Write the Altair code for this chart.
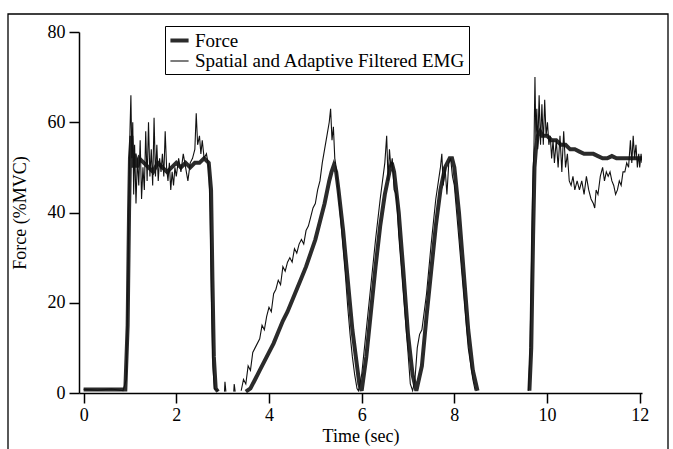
import altair as alt
import pandas as pd

# ---- Force (thick line) ----
force_t = [0.0, 0.3, 0.6, 0.9, 0.95, 0.98, 1.0, 1.03, 1.06, 1.1, 1.15, 1.2, 1.3, 1.4, 1.5, 1.6, 1.7, 1.8, 1.9, 2.0,
           2.1, 2.2, 2.3, 2.4, 2.5, 2.6, 2.7, 2.75, 2.78, 2.81, 2.85, 2.9,
           3.5, 3.6, 3.7, 3.8, 3.9, 4.0, 4.1, 4.2, 4.3, 4.4, 4.5, 4.6, 4.7, 4.8, 4.9, 5.0, 5.1, 5.2, 5.3, 5.35, 5.4,
           5.45, 5.5, 5.6, 5.7, 5.8, 5.9, 5.95, 6.0,
           6.1, 6.2, 6.3, 6.4, 6.5, 6.6, 6.65, 6.7, 6.8, 6.9, 7.0, 7.1, 7.18,
           7.3, 7.4, 7.5, 7.6, 7.7, 7.8, 7.9, 7.95, 8.0, 8.1, 8.2, 8.3, 8.4, 8.5,
           9.62, 9.66, 9.7, 9.73, 9.76, 9.8, 9.85, 9.9, 10.0, 10.1, 10.2, 10.3, 10.4, 10.5, 10.6, 10.7, 10.8,
           10.9, 11.0, 11.1, 11.2, 11.3, 11.4, 11.5, 11.6, 11.7, 11.8, 11.9, 12.0, 12.05]
force_v = [0.8, 0.8, 0.8, 0.8, 15, 40, 52, 57, 50, 53, 50, 52, 51, 50, 49, 51, 50, 49, 50, 51,
           50, 51, 50, 51, 51, 52, 51, 45, 25, 8, 1, 0.3,
           0.3, 1, 3, 5, 7, 9, 11, 13.5, 16, 18, 20.5, 23, 25.5, 28, 31, 34, 38, 42, 47, 49, 50.5,
           49, 45, 36, 25, 14, 6, 2, 0.5,
           8, 18, 28, 37, 44, 49, 51, 49, 40, 27, 13, 4, 0.5,
           6, 17, 27, 37, 45, 50, 52, 52, 50, 40, 27, 14, 5, 0.5,
           0.5, 10, 35, 50, 54, 57, 58, 57, 57, 56, 56, 55, 55, 54, 54, 53.5, 53,
           53, 53, 52.5, 52, 52, 52.5, 52, 52, 52, 52, 52, 52, 52]
# times at which the recorded trace restarts after a gap
force_breaks = [3.5, 9.62]

# ---- Spatial and Adaptive Filtered EMG (thin line) ----
emg_t = [0.0, 0.3, 0.6, 0.85, 0.92, 0.95, 0.98, 1.0, 1.02, 1.04, 1.06, 1.08, 1.1, 1.13, 1.16, 1.19, 1.22, 1.25,
         1.28, 1.31, 1.34, 1.37, 1.4, 1.43, 1.46, 1.49, 1.52, 1.55, 1.58, 1.61, 1.64, 1.67, 1.7, 1.73, 1.76,
         1.79, 1.82, 1.85, 1.88, 1.91, 1.94, 1.97, 2.0, 2.05, 2.1, 2.15, 2.2, 2.25, 2.3, 2.35, 2.4, 2.43,
         2.46, 2.5, 2.53, 2.56, 2.6, 2.65, 2.7, 2.73, 2.76, 2.79, 2.82, 2.9,
         3.04, 3.05, 3.07,
         3.24, 3.25, 3.27,
         3.4, 3.45, 3.5, 3.55, 3.6, 3.65, 3.7, 3.8, 3.85, 3.9, 3.95, 4.0, 4.05, 4.1, 4.15, 4.2, 4.25, 4.3,
         4.35, 4.4, 4.45, 4.5, 4.55, 4.6, 4.65, 4.7, 4.75, 4.8, 4.85, 4.9, 4.95, 5.0, 5.05, 5.1, 5.15, 5.2,
         5.25, 5.3, 5.33, 5.36, 5.39, 5.42, 5.45, 5.5, 5.55, 5.6, 5.65, 5.7, 5.75, 5.8, 5.85, 5.9, 5.93,
         6.0, 6.1, 6.2, 6.3, 6.4, 6.5, 6.54, 6.57, 6.6, 6.63, 6.66, 6.7, 6.75, 6.8, 6.9, 7.0, 7.05, 7.1,
         7.15, 7.2, 7.25, 7.3, 7.4, 7.5, 7.6, 7.7, 7.73, 7.76, 7.8, 7.84, 7.88, 7.92, 7.96, 8.0, 8.1, 8.2,
         8.3, 8.4, 8.45,
         9.6, 9.63, 9.66, 9.69, 9.72, 9.74, 9.76, 9.78, 9.8, 9.83, 9.86, 9.89, 9.92, 9.95, 9.98, 10.01,
         10.04, 10.07, 10.1, 10.13, 10.16, 10.2, 10.24, 10.28, 10.32, 10.36, 10.4, 10.44, 10.48, 10.52,
         10.56, 10.6, 10.65, 10.7, 10.75, 10.8, 10.85, 10.9, 10.95, 11.0, 11.03, 11.06, 11.1, 11.15, 11.2,
         11.24, 11.28, 11.32, 11.36, 11.4, 11.44, 11.48, 11.52, 11.56, 11.6, 11.64, 11.68, 11.72, 11.76,
         11.8, 11.83, 11.86, 11.89, 11.92, 11.95, 11.98, 12.0, 12.03, 12.05]
emg_v = [0.8, 0.6, 0.9, 0.5, 3, 20, 45, 58, 66, 52, 60, 44, 55, 42, 52, 46, 56, 43,
         50, 45, 58, 47, 60, 48, 54, 46, 61, 48, 55, 47, 52, 49, 53, 48, 58,
         50, 47, 51, 45, 49, 46, 50, 48, 52, 49, 53, 50, 47, 51, 52, 54, 62,
         55, 57, 53, 56, 52, 53, 50, 40, 20, 6, 1, 0.5,
         0.3, 2.5, 0.3,
         0.3, 2, 0.3,
         0.5, 3, 2, 6, 5, 9, 10, 12, 15, 14, 17, 19, 18, 22, 23, 25, 24, 28,
         27, 29, 30, 29, 32, 31, 33, 34, 33, 36, 37, 39, 41, 42, 45, 47, 51, 54,
         57, 60, 63, 56, 59, 52, 50, 44, 38, 32, 26, 19, 13, 8, 4, 1, 0.5,
         4, 14, 24, 34, 43, 51, 57, 47, 54, 50, 52, 45, 44, 35, 22, 9, 2, 0.5,
         3, 10, 13, 14, 22, 33, 43, 50, 53, 46, 50, 44, 51, 52, 48, 46, 34, 22,
         10, 3, 0.5,
         0.5, 8, 25, 45, 55, 70, 56, 63, 54, 66, 55, 64, 55, 65, 57, 60,
         55, 57, 52, 56, 51, 56, 50, 57, 49, 58, 50, 53, 47, 46,
         48, 45, 47, 45, 47, 44, 48, 45, 43, 42, 41, 45, 44, 48, 50,
         47, 49, 48, 49, 47, 46, 44, 45, 47, 46, 49, 49, 51, 50,
         56, 51, 57, 52, 55, 50, 53, 50, 53, 51]
emg_breaks = [3.04, 3.24, 3.4, 9.6]

FORCE = "Force"
EMG = "Spatial and Adaptive Filtered EMG"


def seg_of(t, breaks):
    return sum(1 for b in breaks if t >= b)


rows = []
for t, v in zip(force_t, force_v):
    rows.append({"t": t, "v": v, "series": FORCE, "key": f"F{seg_of(t, force_breaks)}"})
for t, v in zip(emg_t, emg_v):
    rows.append({"t": t, "v": v, "series": EMG, "key": f"E{seg_of(t, emg_breaks)}"})
df = pd.DataFrame(rows)

FONT = "Liberation Serif"
legend = alt.Legend(
    title=None, orient="none", legendX=86, legendY=-6,
    strokeColor="black", padding=3, fillColor="white",
    symbolType="stroke", symbolSize=330, rowPadding=0,
    labelFont=FONT, labelFontSize=19, labelColor="black", labelLimit=400, labelOffset=4,
)

lines = alt.Chart(df).mark_line(interpolate="linear", clip=True).encode(
    x=alt.X("t:Q", scale=alt.Scale(domain=[-0.1, 12.05], nice=False, zero=False),
            axis=alt.Axis(values=[0, 2, 4, 6, 8, 10, 12], title="Time (sec)", format="d")),
    y=alt.Y("v:Q", scale=alt.Scale(domain=[0, 80], nice=False),
            axis=alt.Axis(values=[0, 20, 40, 60, 80], title="Force (%MVC)", format="d")),
    color=alt.Color("series:N", scale=alt.Scale(domain=[FORCE, EMG], range=["#2b2b2b", "#111111"]),
                    legend=legend),
    strokeWidth=alt.StrokeWidth("series:N", scale=alt.Scale(domain=[FORCE, EMG], range=[4, 1.1]),
                                legend=legend),
    detail="key:N",
    order=alt.Order("t:Q"),
)

frame = alt.Chart(pd.DataFrame({"a": [0]})).mark_rect(
    fill=None, stroke="black", strokeWidth=1.3, clip=False
).encode(x=alt.value(-71), x2=alt.value(589), y=alt.value(-18), y2=alt.value(440))

chart = alt.layer(frame, lines).properties(
    width=563, height=361,
    padding={"left": 79, "top": 32, "right": 31, "bottom": 56},
    autosize="none",
    background="white",
).configure_view(stroke=None).configure_axis(
    domainColor="black", domainWidth=1.5, tickColor="black", tickWidth=1.5, tickSize=10,
    labelFont=FONT, labelFontSize=18, labelColor="black", labelPadding=3,
    titleFont=FONT, titleFontSize=18, titleFontWeight="normal", titleColor="black",
    grid=False,
).configure_axisY(labelPadding=4, titlePadding=18).configure_axisX(titlePadding=3)

chart.save("out.html", embed_options={"renderer": "svg", "actions": False})
